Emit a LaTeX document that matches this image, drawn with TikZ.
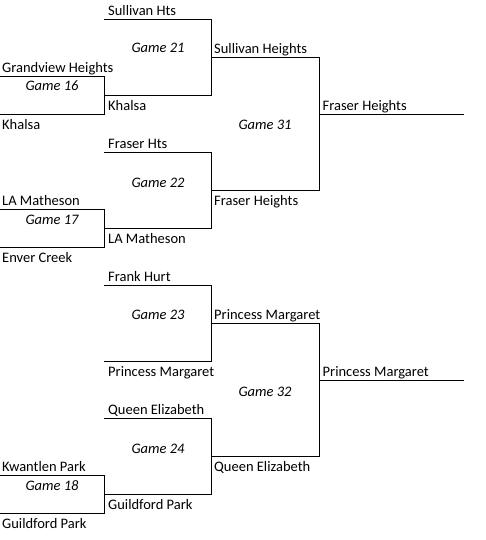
\documentclass[tikz,border=0pt]{standalone}
\usepackage{fontspec}
\setmainfont{Carlito}
\begin{document}
\begin{tikzpicture}[x=1pt,y=-1pt,
  team/.style={anchor=base west, inner sep=0pt, font=\fontsize{14.5}{17}\selectfont},
  game/.style={anchor=base, inner sep=0pt, font=\fontsize{14.5}{17}\selectfont\itshape},
  br/.style={line width=1pt, line cap=rect}]
\useasboundingbox (0,0) rectangle (485,540);
% coordinates
\coordinate (g16tl) at (0,76.5);   \coordinate (g16tr) at (104.5,76.5);
\coordinate (g16br) at (104.5,114.5); \coordinate (g16bl) at (0,114.5);
\coordinate (g16m) at (104.5,95.5);
\coordinate (g17tl) at (0,209.5);  \coordinate (g17tr) at (104.5,209.5);
\coordinate (g17br) at (104.5,247.5); \coordinate (g17bl) at (0,247.5);
\coordinate (g17m) at (104.5,228.5);
\coordinate (g18tl) at (0,475.5);  \coordinate (g18tr) at (104.5,475.5);
\coordinate (g18br) at (104.5,513.5); \coordinate (g18bl) at (0,513.5);
\coordinate (g18m) at (104.5,494.5);
\coordinate (g21tl) at (104.5,19.5); \coordinate (g21tr) at (211.5,19.5);
\coordinate (g21br) at (211.5,95.5); \coordinate (g21m) at (211.5,57.5);
\coordinate (g22tl) at (104.5,152.5); \coordinate (g22tr) at (211.5,152.5);
\coordinate (g22br) at (211.5,228.5); \coordinate (g22m) at (211.5,190.5);
\coordinate (g23tl) at (104.5,285.5); \coordinate (g23tr) at (211.5,285.5);
\coordinate (g23br) at (211.5,361.5); \coordinate (g23bl) at (104.5,361.5);
\coordinate (g23m) at (211.5,323.5);
\coordinate (g24tl) at (104.5,418.5); \coordinate (g24tr) at (211.5,418.5);
\coordinate (g24br) at (211.5,494.5); \coordinate (g24m) at (211.5,456.5);
\coordinate (g31tr) at (319.5,57.5); \coordinate (g31br) at (319.5,190.5);
\coordinate (g31m) at (319.5,114.5); \coordinate (f31) at (463,114.5);
\coordinate (g32tr) at (319.5,323.5); \coordinate (g32br) at (319.5,456.5);
\coordinate (g32m) at (319.5,380.5); \coordinate (f32) at (463,380.5);
% brackets
\draw[br] (g16tl) -- (g16tr) -- (g16br) -- (g16bl);
\draw[br] (g17tl) -- (g17tr) -- (g17br) -- (g17bl);
\draw[br] (g18tl) -- (g18tr) -- (g18br) -- (g18bl);
\draw[br] (g21tl) -- (g21tr) -- (g21br) -- (g16m);
\draw[br] (g22tl) -- (g22tr) -- (g22br) -- (g17m);
\draw[br] (g23tl) -- (g23tr) -- (g23br) -- (g23bl);
\draw[br] (g24tl) -- (g24tr) -- (g24br) -- (g18m);
\draw[br] (g21m) -- (g31tr) -- (g31br) -- (g22m);
\draw[br] (g23m) -- (g32tr) -- (g32br) -- (g24m);
\draw[br] (g31m) -- (f31);
\draw[br] (g32m) -- (f32);
% game labels
\node[game] (t16) at (52,91) {Game 16};
\node[game] (t17) at (52,224) {Game 17};
\node[game] (t18) at (52,490.5) {Game 18};
\node[game] (t21) at (158,53) {Game 21};
\node[game] (t22) at (158,187) {Game 22};
\node[game] (t23) at (158,319) {Game 23};
\node[game] (t24) at (158,453) {Game 24};
\node[game] (t31) at (265,130) {Game 31};
\node[game] (t32) at (265,396) {Game 32};
% team labels
\node[team] (n1) at (2,72.5) {Grandview Heights};
\node[team] (n2) at (2,129.5) {Khalsa};
\node[team] (n3) at (2,205.5) {LA Matheson};
\node[team] (n4) at (2,262.5) {Enver Creek};
\node[team] (n5) at (2,471.5) {Kwantlen Park};
\node[team] (n6) at (2,528.5) {Guildford Park};
\node[team] (n7) at (108,15.5) {Sullivan Hts};
\node[team] (n8) at (108,110.5) {Khalsa};
\node[team] (n9) at (108,148.5) {Fraser Hts};
\node[team] (n10) at (108,243.5) {LA Matheson};
\node[team] (n11) at (108,281.5) {Frank Hurt};
\node[team] (n12) at (108,376.5) {Princess Margaret};
\node[team] (n13) at (108,414.5) {Queen Elizabeth};
\node[team] (n14) at (108,509.5) {Guildford Park};
\node[team] (n15) at (214,53.5) {Sullivan Heights};
\node[team] (n16) at (214,205.5) {Fraser Heights};
\node[team] (n17) at (214,319.5) {Princess Margaret};
\node[team] (n18) at (214,471.5) {Queen Elizabeth};
\node[team] (n19) at (322.5,110.5) {Fraser Heights};
\node[team] (n20) at (322.5,376.5) {Princess Margaret};
\end{tikzpicture}
\end{document}
